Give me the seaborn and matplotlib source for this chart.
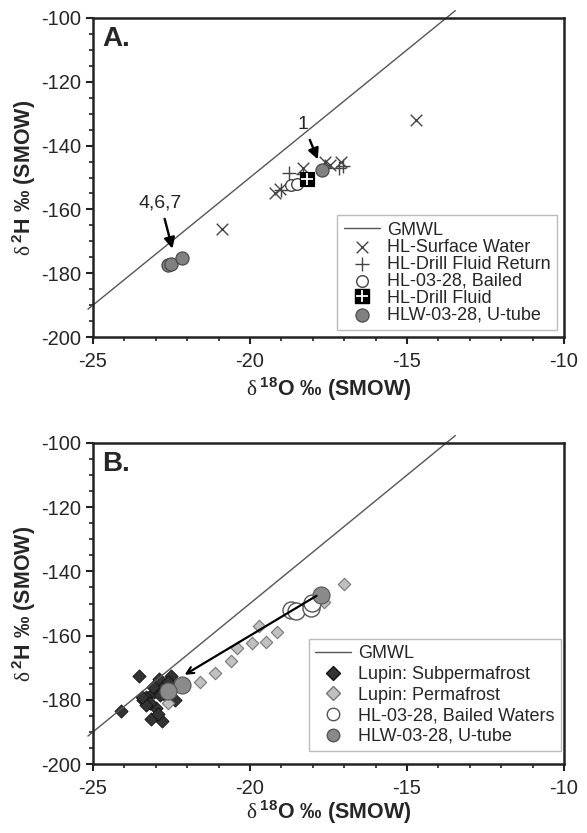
import numpy as np
import matplotlib
matplotlib.use("Agg")
import matplotlib.pyplot as plt
from matplotlib.lines import Line2D
import seaborn as sns

sns.set_style("ticks")
plt.rcParams['font.family'] = ['Liberation Sans', 'DejaVu Sans']
plt.rcParams['axes.unicode_minus'] = False
plt.rcParams['mathtext.fontset'] = 'custom'
plt.rcParams['mathtext.rm'] = 'Liberation Serif'
plt.rcParams['mathtext.bf'] = 'Liberation Sans:bold'

# GMWL: d2H = 8 * d18O + 10
gmwl_x = [-25.16, -13.46]

# ---- panel A data ----
surf_x = [-14.7, -20.9, -19.2, -19.05, -18.3, -17.6, -17.1, -17.45]
surf_y = [-132, -166, -155, -153.5, -147, -145, -145, -146]
ret_x = [-18.75, -18.3, -17.6, -17.15, -17.05, -19.0]
ret_y = [-148.5, -149, -147, -147, -146.5, -154]
bail_x = [-18.7, -18.5]
bail_y = [-152.5, -152]
fluid_x = [-18.2]
fluid_y = [-150.5]
utube_x = [-17.7, -22.6, -22.5, -22.15]
utube_y = [-147.5, -177.5, -177.2, -175.3]

# ---- panel B data ----
sub_x = [-24.1, -23.55, -23.15, -22.8, -22.9, -22.5, -23.4, -23.3, -23.05, -22.98,
         -22.93, -22.77, -22.4, -23.2, -22.65, -23.1, -23.3, -23.45, -22.85, -22.6]
sub_y = [-183.5, -172.5, -186, -186.5, -173.5, -172.5, -180, -179, -177.5, -182.5,
         -184.5, -176, -180, -181, -179, -176, -181.5, -179, -178.5, -174.5]
perm_x = [-17.0, -17.65, -19.7, -19.15, -19.5, -19.95, -20.4, -20.6, -21.1, -21.6, -22.6]
perm_y = [-144, -149.5, -157, -159, -162, -162.3, -164, -168, -171.5, -174.5, -181]
bailw_x = [-18.7, -18.55, -18.05, -18.02]
bailw_y = [-152, -152.3, -151.5, -149.8]
utubeb_x = [-17.75, -22.15, -22.6]
utubeb_y = [-147.5, -175.3, -177.3]

fig = plt.figure(figsize=(5.87, 8.33), dpi=100)
axA = fig.add_axes([0.1584, 0.5954, 0.8024, 0.383])
axB = fig.add_axes([0.1584, 0.0828, 0.8024, 0.3854])

leg_kw = dict(loc='lower right', fontsize=13, frameon=True, fancybox=False,
              edgecolor='#bbbbbb', framealpha=1, handlelength=2.0, handletextpad=0.4,
              borderpad=0.35, borderaxespad=0)


def gmwl(ax):
    gx = np.array(gmwl_x)
    sns.lineplot(x=gx, y=8 * gx + 10, color='#555555', lw=1.0, ax=ax, label='GMWL')
    ax.lines[-1].set_clip_on(False)


def style(ax, letter, xpad):
    ax.set_xlim(-25, -10)
    ax.set_ylim(-200, -100)
    ax.set_xticks([-25, -20, -15, -10])
    ax.set_yticks(np.arange(-200, -99, 20))
    ax.set_xticks(np.arange(-25, -9, 1), minor=True)
    ax.set_yticks(np.arange(-200, -99, 5), minor=True)
    ax.tick_params(which='major', direction='out', length=5, width=1.5, labelsize=14.5,
                   color='#222222')
    ax.tick_params(which='minor', direction='out', length=3, width=1.2, color='#222222')
    ax.tick_params(axis='x', pad=6)
    for s in ax.spines.values():
        s.set_visible(True)
        s.set_linewidth(1.8)
        s.set_color('#222222')
    ax.set_xlabel(r'$\mathrm{\delta}\,^{\mathbf{18}}$O ‰ (SMOW)', fontsize=15.5,
                  fontweight='bold', labelpad=xpad)
    ax.set_ylabel(r'$\mathrm{\delta}\,^{\mathbf{2}}$H ‰ (SMOW)', fontsize=15.5,
                  fontweight='bold', labelpad=2)
    ax.text(0.02, 0.975, letter, transform=ax.transAxes, fontsize=20, fontweight='bold',
            va='top', ha='left')


# ---- panel A ----
gmwl(axA)
sns.scatterplot(x=surf_x, y=surf_y, marker='x', s=70, color='#444444', linewidth=1.0,
                ax=axA, label='HL-Surface Water')
sns.scatterplot(x=ret_x, y=ret_y, marker='+', s=90, color='#444444', linewidth=1.0,
                ax=axA, label='HL-Drill Fluid Return')
sns.scatterplot(x=bail_x, y=bail_y, marker='o', s=70, facecolor='white', edgecolor='#444444',
                linewidth=1.0, ax=axA, label='HL-03-28, Bailed')
sns.scatterplot(x=fluid_x, y=fluid_y, marker='s', s=110, color='black', edgecolor='black',
                ax=axA, label='HL-Drill Fluid')
sns.scatterplot(x=fluid_x, y=fluid_y, marker='+', s=70, color='white', linewidth=1.3,
                ax=axA, legend=False)
sns.scatterplot(x=utube_x, y=utube_y, marker='o', s=90, color='#808080', edgecolor='#444444',
                linewidth=0.8, ax=axA, label='HLW-03-28, U-tube')

arr = dict(arrowstyle='-|>', color='black', lw=1.7, shrinkA=3, shrinkB=0, mutation_scale=16)
axA.annotate('1', xy=(-17.84, -144.3), xytext=(-18.3, -133.3), ha='center', va='center',
             fontsize=14, arrowprops=arr)
axA.annotate('4,6,7', xy=(-22.47, -172.3), xytext=(-22.85, -158.0), ha='center', va='center',
             fontsize=14, arrowprops=arr)

h, lab = axA.get_legend_handles_labels()
h[4] = (Line2D([], [], marker='s', ls='', color='black', markersize=10),
        Line2D([], [], marker='+', ls='', color='white', markersize=8, mew=1.3))
axA.legend(h, lab, bbox_to_anchor=(0.985, 0.022), labelspacing=0.0, **leg_kw)
style(axA, 'A.', 3)

# ---- panel B ----
gmwl(axB)
sns.scatterplot(x=sub_x, y=sub_y, marker='D', s=45, color='#333333', edgecolor='#111111',
                linewidth=0.6, ax=axB, label='Lupin: Subpermafrost')
sns.scatterplot(x=perm_x, y=perm_y, marker='D', s=40, color='#c0c0c0', edgecolor='#777777',
                linewidth=0.8, ax=axB, label='Lupin: Permafrost')
sns.scatterplot(x=bailw_x, y=bailw_y, marker='o', s=150, facecolor='white', edgecolor='#555555',
                linewidth=1.0, ax=axB, label='HL-03-28, Bailed Waters')
sns.scatterplot(x=utubeb_x, y=utubeb_y, marker='o', s=150, color='#8a8a8a', edgecolor='#555555',
                linewidth=0.8, ax=axB, label='HLW-03-28, U-tube')
axB.annotate('', xy=(-22.08, -172.2), xytext=(-17.88, -147.6),
             arrowprops=dict(arrowstyle='->', color='black', lw=1.6, shrinkA=0, shrinkB=0,
                             mutation_scale=12))

hB, labB = axB.get_legend_handles_labels()
hB[1] = Line2D([], [], marker='D', ls='', color='#333333', mec='#111111', markersize=7)
hB[2] = Line2D([], [], marker='D', ls='', color='#c0c0c0', mec='#777777', markersize=7)
hB[3] = Line2D([], [], marker='o', ls='', color='white', mec='#555555', markersize=9)
hB[4] = Line2D([], [], marker='o', ls='', color='#8a8a8a', mec='#555555', markersize=9)
axB.legend(hB, labB, bbox_to_anchor=(0.994, 0.04), labelspacing=0.2, **leg_kw)
style(axB, 'B.', 0)

fig.savefig('out.png', dpi=100)
